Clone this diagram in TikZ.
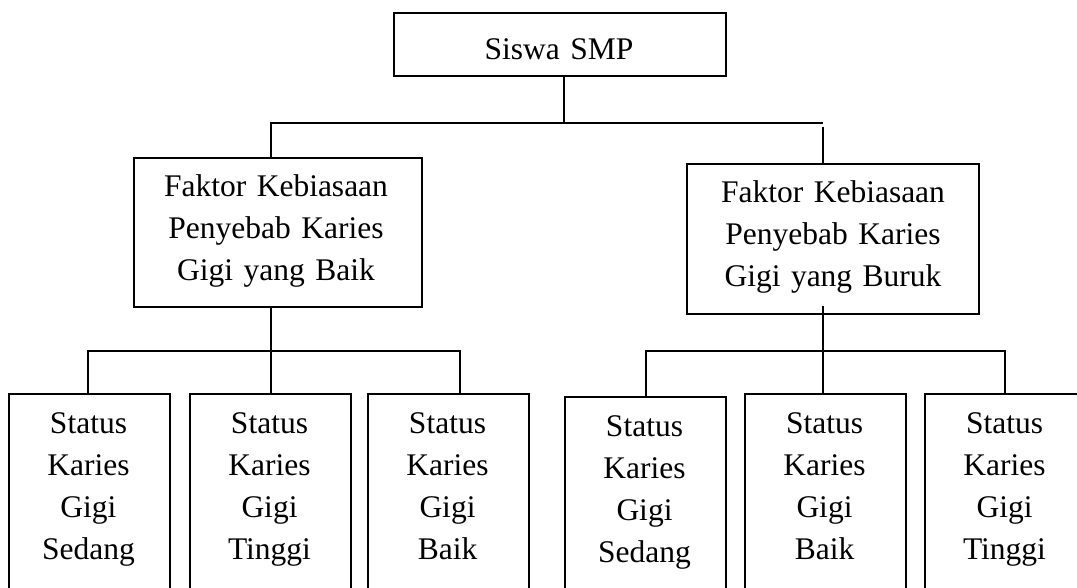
\documentclass[tikz,border=0pt]{standalone}
\usepackage{fontspec}
\setmainfont{Liberation Serif}
\begin{document}
\begin{tikzpicture}[x=1pt,y=-1pt,
  box/.style={draw, line width=1.8pt, inner sep=0pt, anchor=north west},
  lbl/.style={anchor=base, inner sep=0pt, align=center, font=\fontsize{31.5}{42}\selectfont},
  conn/.style={line width=1.8pt, line join=miter}]
\clip (0,0) rectangle (1077,588);
% boxes
\node[box, minimum width=332pt, minimum height=63pt] (top) at (393,12) {};
\node[box, minimum width=288pt, minimum height=149pt] (ml) at (133,157) {};
\node[box, minimum width=292pt, minimum height=150pt] (mr) at (686,163) {};
\node[box, minimum width=161pt, minimum height=200pt] (b1) at (8,393) {};
\node[box, minimum width=161pt, minimum height=200pt] (b2) at (189,393) {};
\node[box, minimum width=161pt, minimum height=200pt] (b3) at (367,393) {};
\node[box, minimum width=161pt, minimum height=200pt] (b4) at (564,396) {};
\node[box, minimum width=161pt, minimum height=200pt] (b5) at (744,393) {};
\node[box, minimum width=161pt, minimum height=200pt] (b6) at (924,393) {};
% labels
\node[lbl, text width=300pt] (ttop) at (559,60) {Siswa SMP};
\node[lbl, text width=270pt] (tml) at (276,197) {Faktor Kebiasaan\\Penyebab Karies\\Gigi yang Baik};
\node[lbl, text width=270pt] (tmr) at (833,203) {Faktor Kebiasaan\\Penyebab Karies\\Gigi yang Buruk};
\node[lbl, text width=140pt] (t1) at (88.5,433) {Status\\Karies\\Gigi\\Sedang};
\node[lbl, text width=140pt] (t2) at (269.5,433) {Status\\Karies\\Gigi\\Tinggi};
\node[lbl, text width=140pt] (t3) at (447.5,433) {Status\\Karies\\Gigi\\Baik};
\node[lbl, text width=140pt] (t4) at (644.5,436) {Status\\Karies\\Gigi\\Sedang};
\node[lbl, text width=140pt] (t5) at (824.5,433) {Status\\Karies\\Gigi\\Baik};
\node[lbl, text width=140pt] (t6) at (1004.5,433) {Status\\Karies\\Gigi\\Tinggi};
% junction coordinates
\coordinate (j0) at (564,123);
\coordinate (jL) at (271,123);
\coordinate (jR) at (823,123);
\coordinate (jR2) at (823,127);
\coordinate (kL) at (271,351);
\coordinate (kL1) at (88,351);
\coordinate (kL3) at (460,351);
\coordinate (kRs) at (823,306);
\coordinate (kR) at (823,351);
\coordinate (kR1) at (646,351);
\coordinate (kR3) at (1005,351);
% connectors
\draw[conn] (top.south -| j0) -- (j0);
\draw[conn] (jL |- ml.north) -- (jL) -- (jR);
\draw[conn] (jR2) -- (jR2 |- mr.north);
\draw[conn] (kL |- ml.south) -- (kL);
\draw[conn] (kL1 |- b1.north) -- (kL1) -- (kL3) -- (kL3 |- b3.north);
\draw[conn] (kL) -- (kL |- b2.north);
\draw[conn] (kRs) -- (kR);
\draw[conn] (kR1 |- b4.north) -- (kR1) -- (kR3) -- (kR3 |- b6.north);
\draw[conn] (kR) -- (kR |- b5.north);
\end{tikzpicture}
\end{document}
